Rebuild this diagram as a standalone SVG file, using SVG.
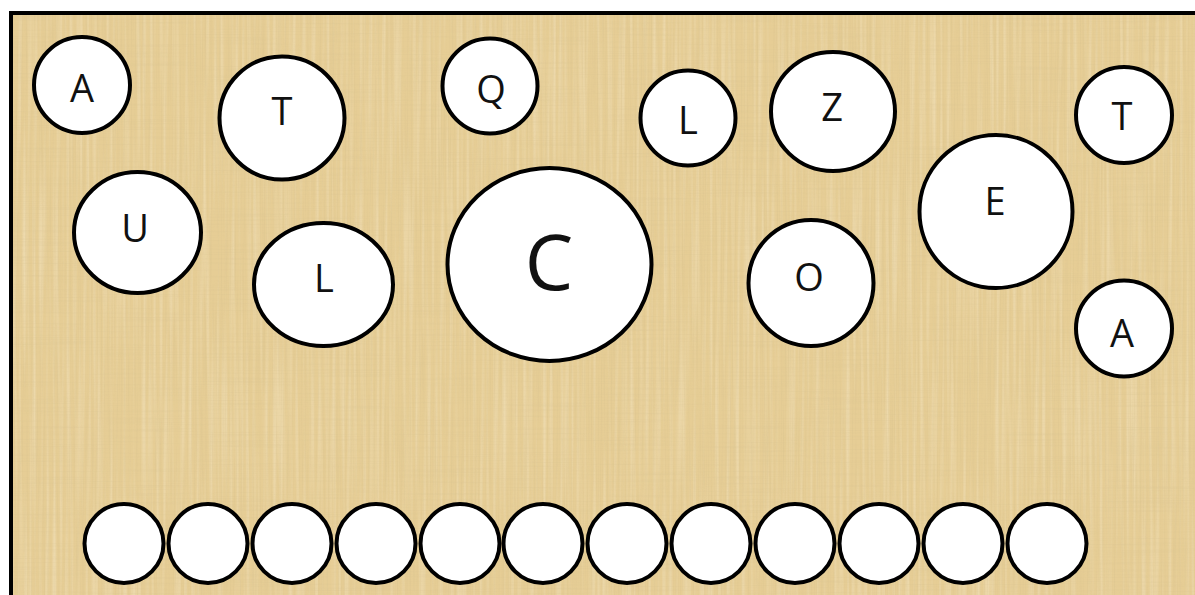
<svg xmlns="http://www.w3.org/2000/svg" width="1195" height="595" viewBox="0 0 1195 595">
  <style>
    .n { fill: #ffffff; stroke: #000000; stroke-width: 4; }
    .t { font-family: "Open Sans", "Liberation Sans", sans-serif; font-size: 38px; fill: #111111; text-anchor: middle; }
    .big { font-size: 77px; }
  </style>
  <defs>
    <filter id="fibV" x="0" y="0" width="1" height="1">
      <feTurbulence type="fractalNoise" baseFrequency="0.7 0.01" numOctaves="2" seed="4" result="n"/>
      <feColorMatrix in="n" type="matrix" values="0 0 0 0 0.66  0 0 0 0 0.52  0 0 0 0 0.26  1.8 0 0 0 -0.8"/>
    </filter>
    <filter id="fibH" x="0" y="0" width="1" height="1">
      <feTurbulence type="fractalNoise" baseFrequency="0.01 0.7" numOctaves="2" seed="9" result="n"/>
      <feColorMatrix in="n" type="matrix" values="0 0 0 0 0.68  0 0 0 0 0.54  0 0 0 0 0.28  1.7 0 0 0 -0.78"/>
    </filter>
    <filter id="light" x="0" y="0" width="1" height="1">
      <feTurbulence type="fractalNoise" baseFrequency="0.3 0.006" numOctaves="1" seed="2" result="n"/>
      <feColorMatrix in="n" type="matrix" values="0 0 0 0 1  0 0 0 0 0.95  0 0 0 0 0.82  1.6 0 0 0 -0.7"/>
    </filter>
  </defs>

  <rect x="0" y="0" width="1195" height="595" fill="#ffffff"/>
  <g id="background">
    <rect x="11" y="13" width="1184" height="582" fill="#E6CD95"/>
    <rect x="11" y="13" width="1184" height="582" filter="url(#light)" opacity="0.45"/>
    <rect x="11" y="13" width="1184" height="582" filter="url(#fibV)" opacity="0.4"/>
    <rect x="11" y="13" width="1184" height="582" filter="url(#fibH)" opacity="0.35"/>
    <path d="M11 597 V13 H1197" fill="none" stroke="#000000" stroke-width="4"/>
  </g>

  <g id="connectors"/>

  <g id="node-A1"><circle class="n" cx="82" cy="85" r="48"/><text class="t" x="82" y="102">A</text></g>
  <g id="node-T1"><ellipse class="n" cx="282" cy="118" rx="62.5" ry="61.5"/><text class="t" x="282" y="125">T</text></g>
  <g id="node-Q"><circle class="n" cx="490" cy="86" r="47.5"/><text class="t" x="491" y="103">Q</text></g>
  <g id="node-L1"><circle class="n" cx="688" cy="118" r="47.5"/><text class="t" x="688" y="134">L</text></g>
  <g id="node-Z"><ellipse class="n" cx="833" cy="111.5" rx="62" ry="59.5"/><text class="t" x="832" y="121">Z</text></g>
  <g id="node-T2"><circle class="n" cx="1124" cy="115" r="48"/><text class="t" x="1122" y="130">T</text></g>
  <g id="node-E"><circle class="n" cx="996" cy="211.5" r="76.5"/><text class="t" x="995" y="215">E</text></g>
  <g id="node-U"><ellipse class="n" cx="137.5" cy="232.5" rx="63.5" ry="60.5"/><text class="t" x="135" y="242">U</text></g>
  <g id="node-L2"><ellipse class="n" cx="323.5" cy="284.5" rx="69.5" ry="61.5"/><text class="t" x="324" y="292">L</text></g>
  <g id="node-C"><ellipse class="n" cx="549.5" cy="264.5" rx="102" ry="96.5"/><text class="t big" x="549" y="290">C</text></g>
  <g id="node-O"><ellipse class="n" cx="811" cy="283" rx="62.5" ry="63"/><text class="t" x="809" y="291">O</text></g>
  <g id="node-A2"><circle class="n" cx="1124" cy="328.5" r="48"/><text class="t" x="1122" y="347">A</text></g>

  <g id="slots">
    <g id="slot-1"><circle class="n" cx="124" cy="543.5" r="39.5"/></g>
    <g id="slot-2"><circle class="n" cx="208" cy="543.5" r="39.5"/></g>
    <g id="slot-3"><circle class="n" cx="292" cy="543.5" r="39.5"/></g>
    <g id="slot-4"><circle class="n" cx="376" cy="543.5" r="39.5"/></g>
    <g id="slot-5"><circle class="n" cx="460" cy="543.5" r="39.5"/></g>
    <g id="slot-6"><circle class="n" cx="543" cy="543.5" r="39.5"/></g>
    <g id="slot-7"><circle class="n" cx="627" cy="543.5" r="39.5"/></g>
    <g id="slot-8"><circle class="n" cx="711" cy="543.5" r="39.5"/></g>
    <g id="slot-9"><circle class="n" cx="795" cy="543.5" r="39.5"/></g>
    <g id="slot-10"><circle class="n" cx="879" cy="543.5" r="39.5"/></g>
    <g id="slot-11"><circle class="n" cx="963" cy="543.5" r="39.5"/></g>
    <g id="slot-12"><circle class="n" cx="1047" cy="543.5" r="39.5"/></g>
  </g>
</svg>
